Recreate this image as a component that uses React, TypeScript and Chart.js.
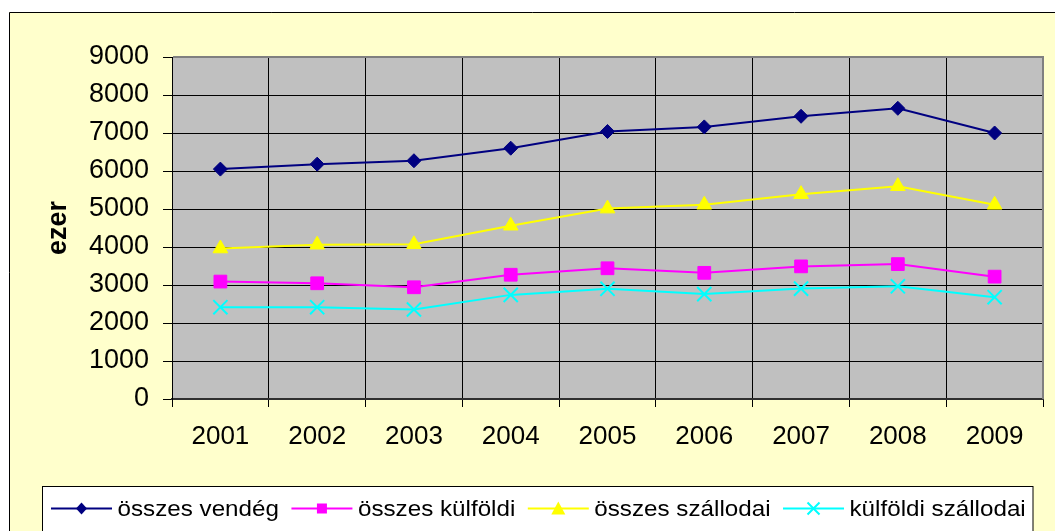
import React, { useEffect, useRef } from 'react';
import { Chart, registerables } from 'chart.js';

Chart.register(...registerables);

const years = ['2001', '2002', '2003', '2004', '2005', '2006', '2007', '2008', '2009'];
const osszesVendeg = [6050, 6180, 6270, 6600, 7040, 7160, 7440, 7650, 7000];
const osszesKulfoldi = [3090, 3045, 2940, 3270, 3440, 3320, 3490, 3550, 3220];
const osszesSzallodai = [3960, 4060, 4070, 4560, 5010, 5110, 5390, 5600, 5110];
const kulfoldiSzallodai = [2415, 2415, 2355, 2740, 2900, 2760, 2905, 2965, 2680];
const seriesLabels = ['összes vendég', 'összes külföldi', 'összes szállodai', 'külföldi szállodai'];
const seriesColors = ['#000080', '#FF00FF', '#FFFF00', '#00FFFF'];
const yAxisTitle = 'ezer';
const yMin = 0;
const yMax = 9000;
const yStep = 1000;

const FONT = '"Liberation Sans", Arial, sans-serif';

function drawMarker(ctx: CanvasRenderingContext2D, kind: number, x: number, y: number, color: string) {
  ctx.save();
  ctx.fillStyle = color;
  ctx.strokeStyle = color;
  ctx.beginPath();
  if (kind === 0) {
    ctx.moveTo(x - 5.5, y);
    ctx.lineTo(x, y - 6);
    ctx.lineTo(x + 5.5, y);
    ctx.lineTo(x, y + 6);
    ctx.closePath();
    ctx.fill();
  } else if (kind === 1) {
    ctx.rect(x - 5, y - 5, 10, 10);
    ctx.fill();
  } else if (kind === 2) {
    ctx.moveTo(x, y - 7);
    ctx.lineTo(x + 7, y + 6);
    ctx.lineTo(x - 7, y + 6);
    ctx.closePath();
    ctx.fill();
  } else {
    ctx.lineWidth = 2;
    ctx.moveTo(x - 6, y - 6);
    ctx.lineTo(x + 6, y + 6);
    ctx.moveTo(x + 6, y - 6);
    ctx.lineTo(x - 6, y + 6);
    ctx.stroke();
  }
  ctx.restore();
}

const framePlugin = {
  id: 'framePlugin',
  beforeDraw(chart: any) {
    const ctx = chart.ctx as CanvasRenderingContext2D;
    const w = chart.width;
    const h = chart.height;
    ctx.save();
    ctx.fillStyle = '#FFFFFF';
    ctx.fillRect(0, 0, w, h);
    ctx.fillStyle = '#FFFFCC';
    ctx.fillRect(9, 12, w, h);
    ctx.strokeStyle = '#000000';
    ctx.lineWidth = 1;
    ctx.beginPath();
    ctx.moveTo(9.5, h + 5);
    ctx.lineTo(9.5, 12.5);
    ctx.lineTo(w + 5, 12.5);
    ctx.stroke();
    const a = chart.chartArea;
    ctx.fillStyle = '#C0C0C0';
    ctx.fillRect(a.left, a.top, a.right - a.left, a.bottom - a.top);
    ctx.restore();
  },
  beforeDatasetsDraw(chart: any) {
    const ctx = chart.ctx as CanvasRenderingContext2D;
    const a = chart.chartArea;
    ctx.save();
    ctx.strokeStyle = '#808080';
    ctx.lineWidth = 2;
    ctx.beginPath();
    ctx.moveTo(a.left + 1, a.top);
    ctx.lineTo(a.right, a.top);
    ctx.lineTo(a.right, a.bottom);
    ctx.stroke();
    ctx.restore();
  },
  afterDraw(chart: any) {
    const ctx = chart.ctx as CanvasRenderingContext2D;
    ctx.save();
    ctx.fillStyle = '#FFFFFF';
    ctx.fillRect(42.5, 486.5, 990.5, 60);
    ctx.strokeStyle = '#000000';
    ctx.lineWidth = 1;
    ctx.strokeRect(42.5, 486.5, 990.5, 60);
    const sx = 1.1;
    ctx.font = `22px ${FONT}`;
    ctx.textBaseline = 'alphabetic';
    ctx.textAlign = 'left';
    let x = 51;
    const lineY = 508.5;
    seriesLabels.forEach((label, i) => {
      ctx.strokeStyle = seriesColors[i];
      ctx.lineWidth = 2;
      ctx.beginPath();
      ctx.moveTo(x, lineY);
      ctx.lineTo(x + 61, lineY);
      ctx.stroke();
      drawMarker(ctx, i, x + 30.5, lineY, seriesColors[i]);
      const tx = x + 61 + 5.5;
      const tw = ctx.measureText(label).width * sx;
      ctx.save();
      ctx.translate(tx, 516);
      ctx.scale(sx, 1);
      ctx.fillStyle = '#000000';
      ctx.fillText(label, 0, 0);
      ctx.restore();
      x = tx + tw + 12.5;
    });
    ctx.restore();
  },
};

export default function App() {
  const canvasRef = useRef<HTMLCanvasElement | null>(null);

  useEffect(() => {
    const canvas = canvasRef.current;
    if (!canvas) return;
    const series = [osszesVendeg, osszesKulfoldi, osszesSzallodai, kulfoldiSzallodai];
    const styles: any[] = [
      { pointStyle: 'rectRot', pointRadius: 7, pointBorderWidth: 1 },
      { pointStyle: 'rect', pointRadius: 9, pointBorderWidth: 1 },
      { pointStyle: 'triangle', pointRadius: 8.5, pointBorderWidth: 1 },
      { pointStyle: 'crossRot', pointRadius: 10, pointBorderWidth: 2 },
    ];
    const chart = new Chart(canvas, {
      type: 'line',
      data: {
        labels: years,
        datasets: series.map((data, i) => ({
          label: seriesLabels[i],
          data,
          borderColor: seriesColors[i],
          backgroundColor: seriesColors[i],
          pointBackgroundColor: seriesColors[i],
          pointBorderColor: seriesColors[i],
          borderWidth: 2,
          tension: 0,
          fill: false,
          clip: false as any,
          ...styles[i],
        })),
      },
      options: {
        animation: false,
        responsive: false,
        maintainAspectRatio: false,
        layout: { padding: { left: 0, top: 57, right: 7, bottom: 0 } },
        plugins: {
          legend: { display: false },
          tooltip: { enabled: false },
        },
        scales: {
          x: {
            type: 'category',
            offset: true,
            grid: { offset: true, color: '#000000', lineWidth: 1, tickLength: 8, drawTicks: true },
            border: { color: '#303030', width: 2 },
            ticks: {
              color: '#000000',
              font: { family: FONT, size: 26 },
              padding: 14,
              maxRotation: 0,
              autoSkip: false,
            },
            afterFit: (s: any) => {
              s.height = 132;
            },
          },
          y: {
            min: yMin,
            max: yMax,
            grid: { color: '#000000', lineWidth: 1, tickLength: 9 },
            border: { color: '#000000', width: 1 },
            ticks: {
              stepSize: yStep,
              color: '#000000',
              font: { family: FONT, size: 27 },
              padding: 14,
              callback: (v: any) => String(v),
            },
            title: {
              display: true,
              text: yAxisTitle,
              color: '#000000',
              font: { family: FONT, size: 27, weight: 'bold' },
              padding: { top: 42, bottom: 0 },
            },
            afterFit: (s: any) => {
              s.width = 172;
            },
          },
        },
      } as any,
      plugins: [framePlugin],
    });
    return () => chart.destroy();
  }, []);

  return (
    <canvas
      ref={canvasRef}
      width={1055}
      height={531}
      style={{ position: 'fixed', left: 0, top: 0, width: '1055px', height: '531px', display: 'block' }}
    />
  );
}
